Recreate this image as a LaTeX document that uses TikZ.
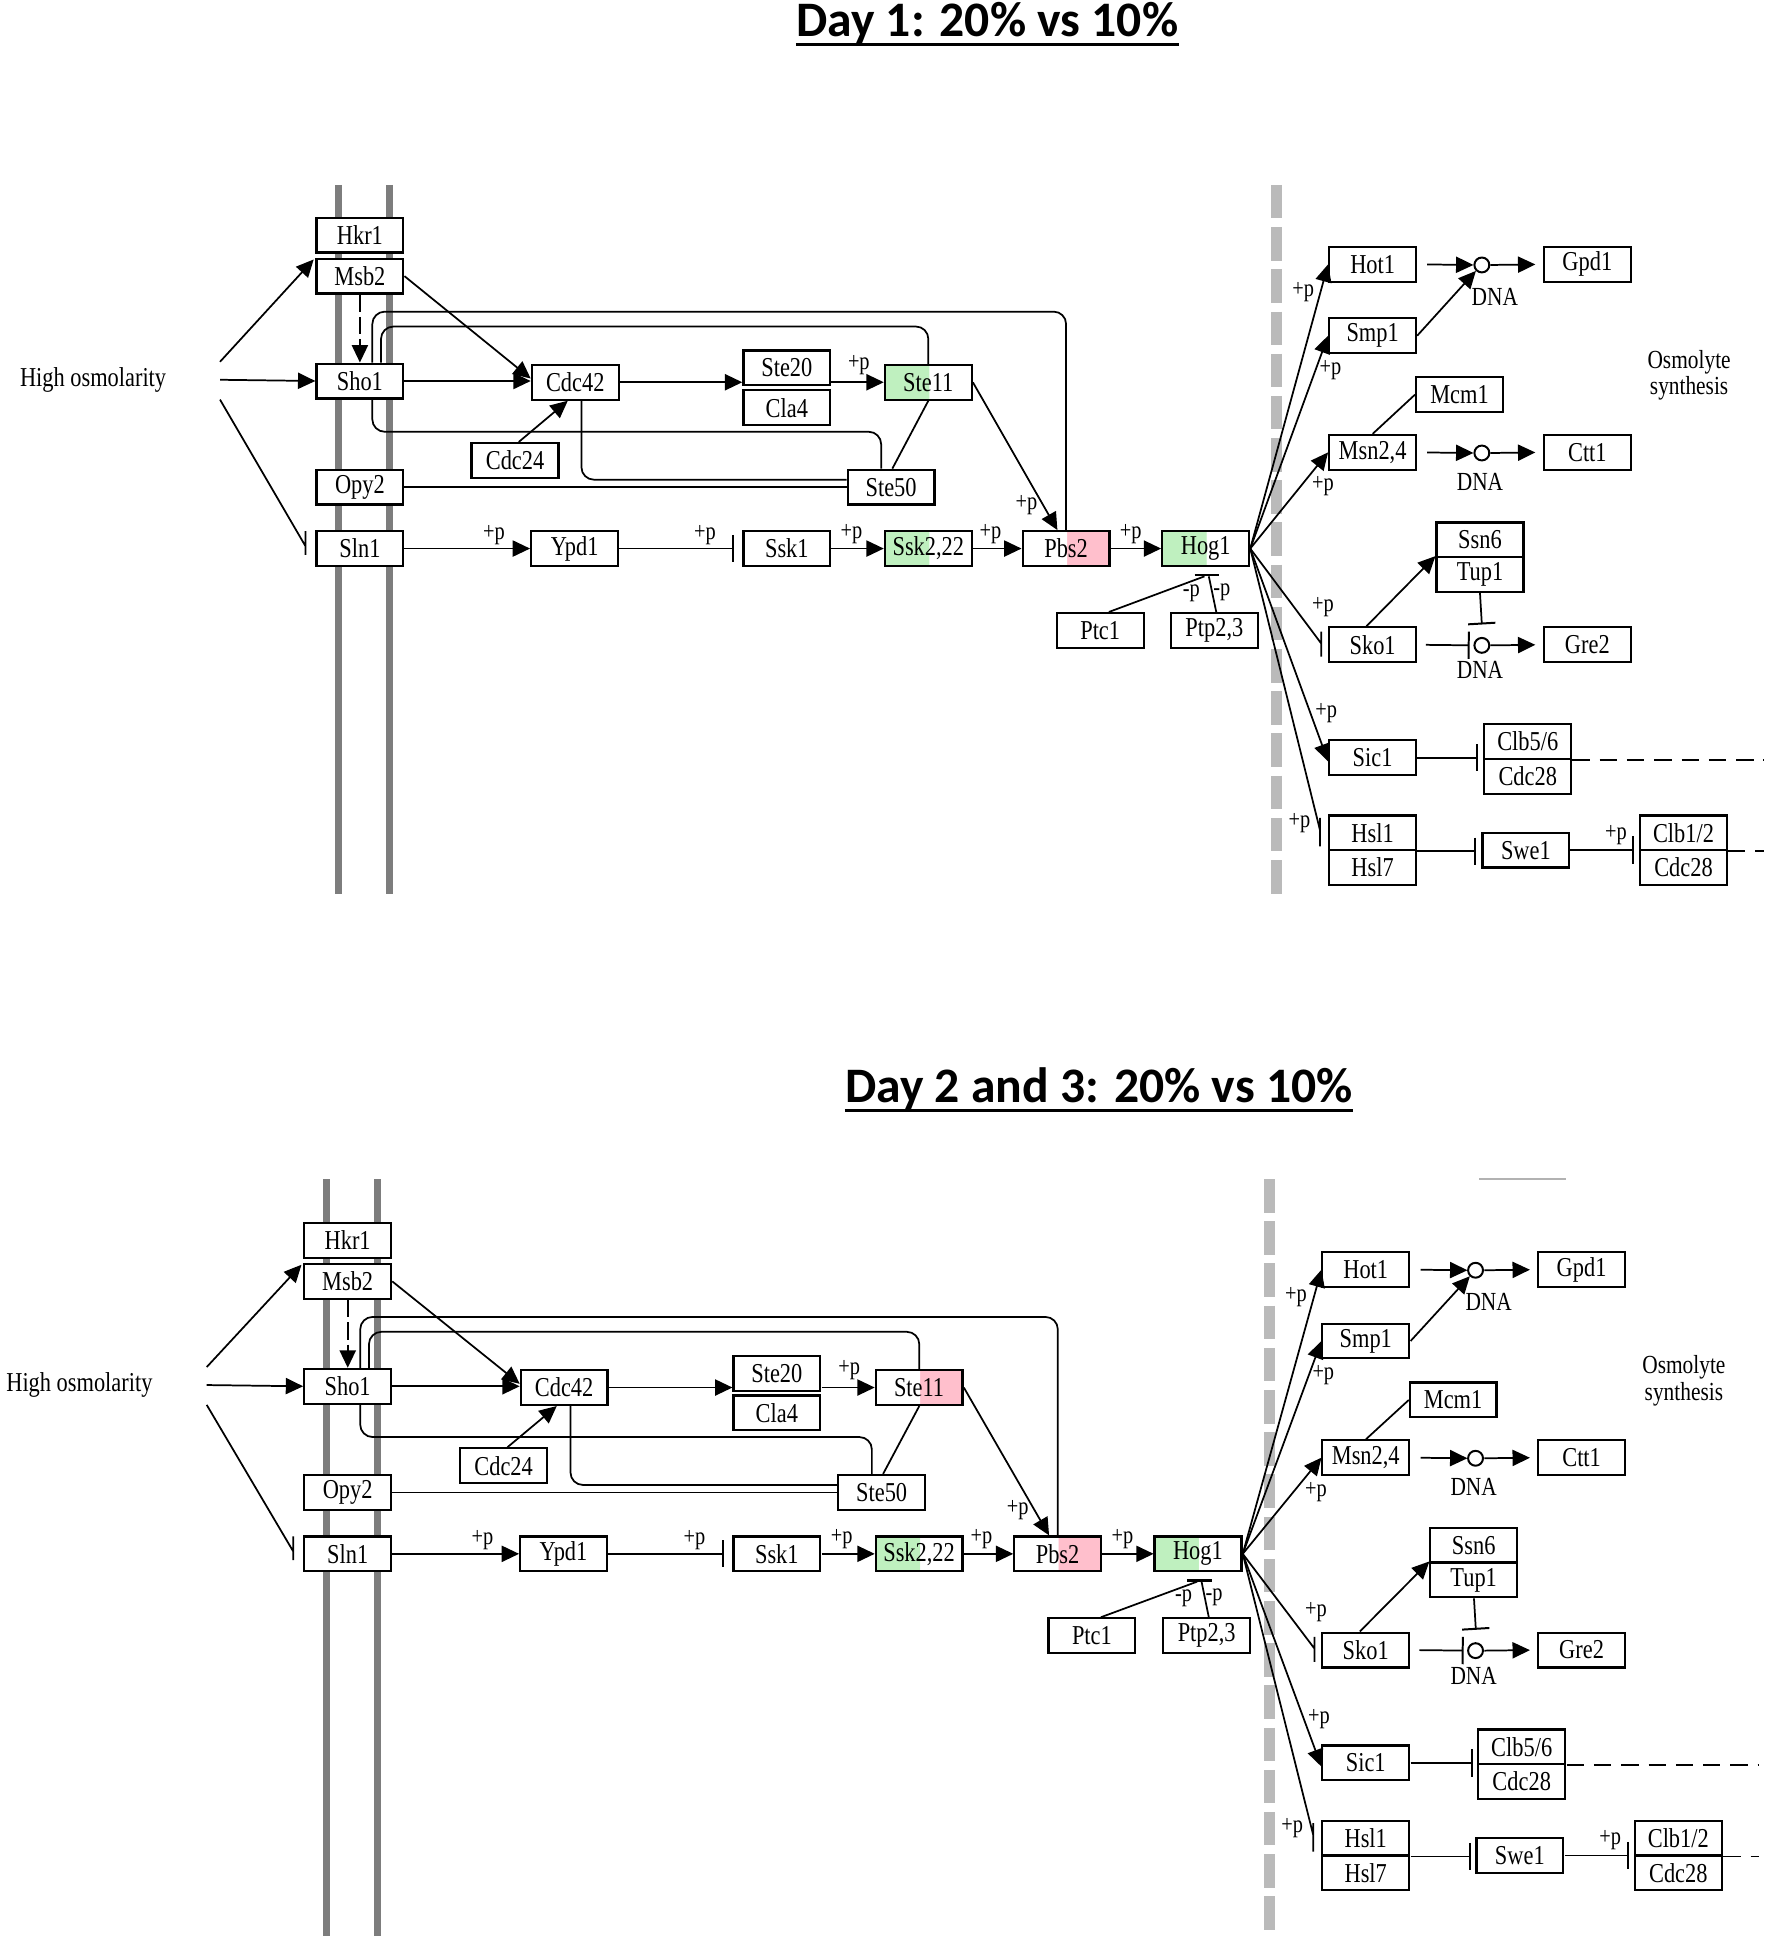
\documentclass[tikz,border=0pt]{standalone}
\usepackage{fontspec}
\setmainfont{Liberation Serif}[FakeStretch=0.82]
\newfontfamily\titlefont{Carlito}
\usetikzlibrary{arrows.meta,calc}

\definecolor{keggreen}{RGB}{191,240,191}
\definecolor{kegpink}{RGB}{255,191,204}
\definecolor{membgray}{RGB}{125,125,125}
\definecolor{nucgray}{RGB}{186,186,186}

\pgfdeclarehorizontalshading{leftgreen}{100bp}{color(0bp)=(keggreen); color(50bp)=(keggreen); color(50.01bp)=(white); color(100bp)=(white)}
\pgfdeclarehorizontalshading{rightpink}{100bp}{color(0bp)=(white); color(50bp)=(white); color(50.01bp)=(kegpink); color(100bp)=(kegpink)}

\begin{document}
\begin{tikzpicture}[x=0.5pt, y=-0.5pt]
  \tikzstyle{box}=[draw, fill=white, line width=0.9pt, minimum width=35pt, minimum height=14pt, inner sep=0pt, font=\fontsize{11}{11}\selectfont]
  \tikzstyle{greenhalf}=[shade, shading=leftgreen]
  \tikzstyle{pinkhalf}=[shade, shading=rightpink]
  \tikzstyle{txt}=[inner sep=0pt, font=\fontsize{11}{11}\selectfont]
  \tikzstyle{plab}=[inner sep=0pt, font=\fontsize{10}{10}\selectfont]
  \tikzstyle{dnalab}=[inner sep=0pt, font=\fontsize{10.5}{10.5}\selectfont]
  \tikzstyle{dnasite}=[draw, fill=white, circle, minimum size=6pt, inner sep=0pt, line width=0.8pt]
  \tikzstyle{link}=[line width=0.7pt]
  \tikzstyle{act}=[link, -{Triangle[length=7pt,width=6.5pt]}]
  \tikzstyle{inh}=[link, -{Bar[width=11pt,line width=0.8pt]}]
  \tikzstyle{cyclink}=[link, dash pattern=on 7pt off 4pt]
  \tikzstyle{membrane}=[line width=2.75pt, color=membgray]
  \tikzstyle{nucleus}=[line width=4.4pt, color=nucgray, dash pattern=on 13.5pt off 3.5pt]
  \tikzstyle{title}=[inner sep=0pt, font=\titlefont\bfseries\fontsize{20}{20}\selectfont]

  \useasboundingbox (0,0) rectangle (1428,1568);

  \node[title, anchor=base] (title1) at (795.5,29.5) {Day 1: 20\% vs 10\%};
  \draw[line width=1.3pt] ($(title1.base west)+(0,6.5)$) -- ($(title1.base east)+(0,6.5)$);
  \node[title, anchor=base] (title2) at (885.5,888) {Day 2 and 3: 20\% vs 10\%};
  \draw[line width=1.3pt] ($(title2.base west)+(0,6.5)$) -- ($(title2.base east)+(0,6.5)$);
  \draw[gray!60, line width=0.8pt] (1192,950) -- (1262,950);

  \foreach \px/\py/\sx/\ys/\yb/\pre/\stefill in {0/0/1/149/720/t-/greenhalf, -11.4/810/1.0053/140/750/b-/pinkhalf}{
  \begin{scope}[shift={(\px,\py)}, xscale=\sx, name prefix=\pre]
    % membranes
    \draw[membrane] (273,\ys) -- (273,\yb);
    \draw[membrane] (314,\ys) -- (314,\yb);
    \draw[nucleus] (1028.5,\ys) -- (1028.5,\yb);

    % nodes
    \node[txt] (hosm) at (75,306) {High osmolarity};
    \node[box] (hkr1) at (290,189.5) {Hkr1};
    \node[box] (msb2) at (290,222.5) {Msb2};
    \node[box] (sho1) at (290,307) {Sho1};
    \node[box] (opy2) at (290,392.5) {Opy2};
    \node[box] (sln1) at (290,442) {Sln1};
    \node[box] (cdc42) at (463.5,308) {Cdc42};
    \node[box] (cdc24) at (415,371) {Cdc24};
    \node[box] (ste20) at (634,296.5) {Ste20};
    \node[box] (cla4) at (634,328.5) {Cla4};
    \node[box,\stefill] (ste11) at (748,308) {Ste11};
    \node[box] (ste50) at (718,392.5) {Ste50};
    \node[box] (ypd1) at (463,442) {Ypd1};
    \node[box] (ssk1) at (634,442) {Ssk1};
    \node[box,greenhalf] (ssk2) at (748,442) {Ssk2,22};
    \node[box,pinkhalf] (pbs2) at (859,442) {Pbs2};
    \node[box,greenhalf] (hog1) at (971.5,442) {Hog1};
    \node[box] (ptc1) at (886.5,508) {Ptc1};
    \node[box] (ptp23) at (978.5,508) {Ptp2,3};

    \node[box] (hot1) at (1106,213) {Hot1};
    \node[dnasite] (dna1) at (1194,213.5) {};
    \node[box] (gpd1) at (1279,213) {Gpd1};
    \node[box] (smp1) at (1106,270.5) {Smp1};
    \node[box] (mcm1) at (1176,318) {Mcm1};
    \node[box] (msn24) at (1106,364.5) {Msn2,4};
    \node[dnasite] (dna2) at (1194,365) {};
    \node[box] (ctt1) at (1279,364.5) {Ctt1};
    \node[box] (ssn6) at (1192.5,435) {Ssn6};
    \node[box] (tup1) at (1192.5,463) {Tup1};
    \node[box] (sko1) at (1106,519.5) {Sko1};
    \node[dnasite] (dna3) at (1194,520) {};
    \node[box] (gre2) at (1279,519.5) {Gre2};
    \node[box] (sic1) at (1106,610.5) {Sic1};
    \node[box] (clb56) at (1231,597.5) {Clb5/6};
    \node[box] (cdc28a) at (1231,625.5) {Cdc28};
    \node[box] (hsl1) at (1106,671) {Hsl1};
    \node[box] (hsl7) at (1106,699) {Hsl7};
    \node[box] (swe1) at (1229.5,685) {Swe1};
    \node[box] (clb12) at (1356.5,671) {Clb1/2};
    \node[box] (cdc28b) at (1356.5,699) {Cdc28};

    \node[txt, align=center, font=\fontsize{10.5}{8.8}\selectfont] (osmo) at (1361,302.5) {Osmolyte\\synthesis};
    \node[dnalab] (dnal1) at (1204.5,239) {DNA};
    \node[dnalab] (dnal2) at (1192.5,388) {DNA};
    \node[dnalab] (dnal3) at (1192.5,540) {DNA};

    % input
    \coordinate (hsrc) at ($(hosm.east)+(43,0)$);
    \draw[act, shorten >=1pt] ($(hsrc)+(0,-14.5)$) -- (msb2.north west);
    \draw[act] (hsrc) -- (sho1.west);
    \draw[link] ($(hsrc)+(0,16)$) -- ($(sln1.west)+(-8,-2)$) ++(0,-12) -- ++(0,19);
    \draw[act, dash pattern=on 7pt off 2pt] (msb2.south) -- (sho1.north);

    % Sho1 branch
    \draw[act] (msb2.east) -- ($(cdc42.west)+(0,-3)$);
    \draw[act] (sho1.east) -- (sho1.east -| cdc42.west);
    \draw[link, rounded corners=5pt] ($(sho1.north)+(10,0)$) -- ++(0,-41) -| (pbs2.north);
    \draw[link, rounded corners=5pt] ($(sho1.north)+(17,0)$) -- ++(0,-29) -| (ste11.north);
    \draw[link, rounded corners=5pt] ($(sho1.south)+(10,0)$) -- ++(0,26) -| ($(ste50.north)+(-8,0)$);
    \draw[link, rounded corners=5pt] ($(cdc42.south)+(5,0)$) |- ($(ste50.west)+(0,-6)$);
    \draw[link] (opy2.east) -- (opy2.east -| ste50.west);
    \draw[link] ($(ste50.north)+(1,0)$) -- (ste11.south);
    \draw[act] ($(cdc24.north)+(3,0)$) -- ($(cdc42.south)+(-6,0)$);
    \draw[act] (cdc42.east) -- (cdc42.east -| ste20.west);
    \draw[act] (ste20.east |- ste11.west) -- (ste11.west);
    \draw[act] (ste11.east) -- ($(pbs2.north)+(-7,0)$);

    % Sln1 branch
    \draw[act] (sln1.east) -- (ypd1.west);
    \draw[inh, shorten >=3.5pt] (ypd1.east) -- (ssk1.west);
    \draw[act] (ssk1.east) -- (ssk2.west);
    \draw[act] (ssk2.east) -- (pbs2.west);
    \draw[act] (pbs2.east) -- (hog1.west);

    % phosphatases
    \coordinate (hogbar) at ($(hog1.south)+(1,6.5)$);
    \draw[link, line width=0.9pt] ($(hogbar)+(-10,0)$) -- ($(hogbar)+(10,0)$);
    \draw[link] ($(ptc1.north)+(7,0)$) -- ($(hogbar)+(-2,1)$);
    \draw[link] ($(ptp23.north)+(1.5,0)$) -- ($(hogbar)+(1.5,1)$);

    % Hog1 targets
    \draw[act] (hog1.east) -- (hot1.west);
    \draw[act] (hog1.east) -- (smp1.west);
    \draw[act] (hog1.east) -- (msn24.west);
    \draw[link] (hog1.east) -- ($(sko1.west)+(-5.5,-1)$) ++(0,-9.5) -- ++(0,20);
    \draw[act] (hog1.east) -- ($(sic1.west)+(0,3)$);
    \draw[link] (hog1.east) -- ($(hsl1.west)+(-6.5,-2)$) ++(0,-10) -- ++(0,23);

    % transcription
    \draw[act, shorten <=4pt] (hot1.east) -- (dna1.west);
    \draw[act, shorten >=3pt] (dna1.east) -- (gpd1.west);
    \draw[act] (smp1.east) -- (dna1.south west);
    \draw[link] (mcm1.west) -- (msn24.north);
    \draw[act, shorten <=4pt] (msn24.east) -- (dna2.west);
    \draw[act, shorten >=3pt] (dna2.east) -- (ctt1.west);
    \draw[act] ($(sko1.north)+(-5,0)$) -- (tup1.north west);
    \draw[inh] (tup1.south) -- ($(dna3.north)+(0,-10)$);
    \draw[inh, shorten <=3.5pt, shorten >=1.5pt] (sko1.east) -- (dna3.west);
    \draw[act, shorten >=3pt] (dna3.east) -- (gre2.west);

    % cell cycle
    \coordinate (rim) at (1421,0);
    \draw[inh, shorten >=2pt] (sic1.east) -- (sic1.east -| clb56.west);
    \draw[inh, shorten >=2pt] (hsl1.south east) -- (hsl1.south east -| swe1.west);
    \draw[inh, shorten >=2pt] (swe1.east) -- (swe1.east -| clb12.west);
    \draw[cyclink] (clb56.south east) -- (clb56.south east -| rim);
    \draw[cyclink] (clb12.south east) -- (clb12.south east -| rim);

    % phosphorylation marks
    \node[plab] (p1) at (398,431) {+p};
    \node[plab] (p2) at (568,431) {+p};
    \node[plab] (p3) at (686,430) {+p};
    \node[plab] (p4) at (798,430) {+p};
    \node[plab] (p5) at (911,430) {+p};
    \node[plab] (p6) at (692,294) {+p};
    \node[plab] (p7) at (827,407) {+p};
    \node[plab] (p8) at (1050,235) {+p};
    \node[plab] (p9) at (1072,298) {+p};
    \node[plab] (p10) at (1066,392) {+p};
    \node[plab] (p11) at (1066,489) {+p};
    \node[plab] (p12) at (1068.5,575) {+p};
    \node[plab] (p13) at (1047,663) {+p};
    \node[plab] (p14) at (1302,673) {+p};
    \node[plab] (m1) at (960,478) {-p};
    \node[plab] (m2) at (984.5,477) {-p};
  \end{scope}
  }
\end{tikzpicture}
\end{document}
